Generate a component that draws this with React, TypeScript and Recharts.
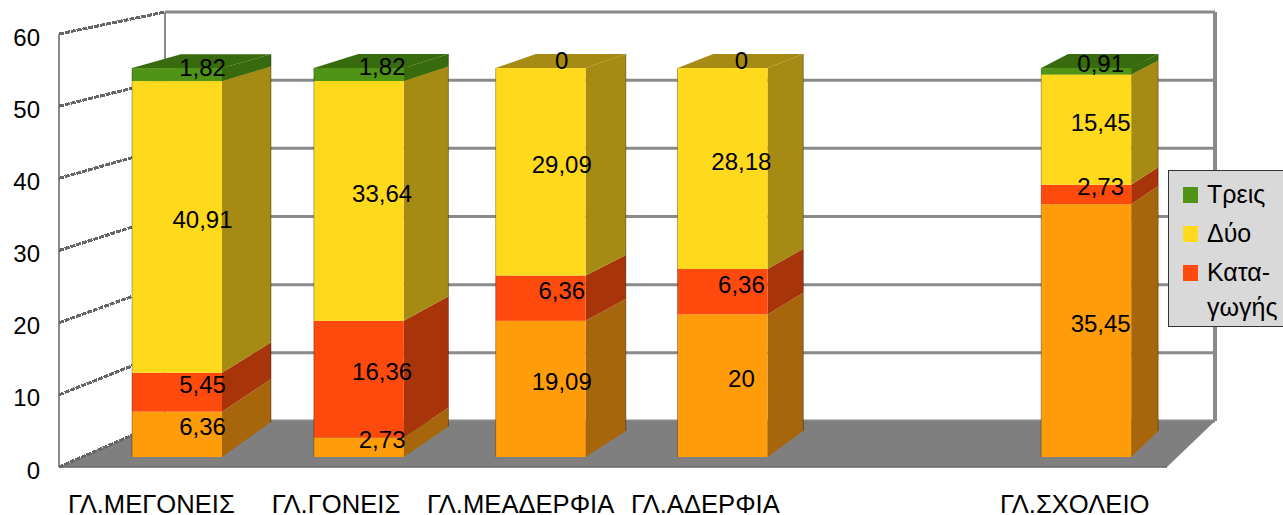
import {
  Bar,
  BarChart,
  CartesianGrid,
  LabelList,
  Legend,
  XAxis,
  YAxis,
} from "recharts";

const categories = [
  "ΓΛ.ΜΕΓΟΝΕΙΣ",
  "ΓΛ.ΓΟΝΕΙΣ",
  "ΓΛ.ΜΕΑΔΕΡΦΙΑ",
  "ΓΛ.ΑΔΕΡΦΙΑ",
  " ",
  "ΓΛ.ΣΧΟΛΕΙΟ",
];
const mia = [6.36, 2.73, 19.09, 20, null, 35.45];
const katagogis = [5.45, 16.36, 6.36, 6.36, null, 2.73];
const dyo = [40.91, 33.64, 29.09, 28.18, null, 15.45];
const treis = [1.82, 1.82, 0, 0, null, 0.91];
const yTicks = [0, 10, 20, 30, 40, 50, 60];

const data = categories.map((name, i) => ({
  name,
  mia: mia[i],
  katagogis: katagogis[i],
  dyo: dyo[i],
  treis: treis[i],
}));

const FONT = "'Liberation Sans', Arial, sans-serif";
const GRID = "#8a8a8a";

// box of the fake 3D room, in svg pixels
const FRONT_LEFT = 59;
const FRONT_RIGHT = 1167;
const BACK_LEFT = 165;
const BACK_RIGHT = 1215;
const FLOOR_FRONT = 467;
const FLOOR_BACK = 421;
const TOP_Y = 12;

const frontY = (v: number) => FLOOR_FRONT - v * 7.217;
const backY = (v: number) => FLOOR_BACK - v * ((FLOOR_BACK - TOP_Y) / 60);

// bars get shallower towards the right, the sides steeper towards the floor
const depthAt = (x: number) => 49 - (x - 132) * 0.0242;
const liftAt = (x: number, y: number) => {
  const bottom = Math.max(26, 35 - (x - 132) * 0.0245);
  return 14 + ((y - 70) / 387) * (bottom - 14);
};

const Room = () => (
  <g>
    <polygon
      points={`${FRONT_LEFT},${FLOOR_FRONT} ${FRONT_RIGHT},${FLOOR_FRONT} ${BACK_RIGHT},${FLOOR_BACK} ${BACK_LEFT},${FLOOR_BACK}`}
      fill="#7f7f7f"
    />
    <line x1={FRONT_LEFT} y1={FLOOR_FRONT} x2={FRONT_RIGHT} y2={FLOOR_FRONT} stroke="#666" strokeWidth={1.5} />
    <line x1={BACK_LEFT} y1={TOP_Y} x2={BACK_LEFT} y2={FLOOR_BACK} stroke={GRID} strokeWidth={2} />
    <line x1={BACK_RIGHT} y1={TOP_Y} x2={BACK_RIGHT} y2={FLOOR_BACK} stroke={GRID} strokeWidth={4} />
    <line x1={FRONT_LEFT} y1={frontY(60)} x2={FRONT_LEFT} y2={FLOOR_FRONT} stroke={GRID} strokeWidth={2} />
    {yTicks.map((v) => (
      <line
        key={v}
        x1={FRONT_LEFT}
        y1={frontY(v)}
        x2={BACK_LEFT}
        y2={backY(v)}
        stroke="#666"
        strokeWidth={3}
        strokeDasharray="5 1"
        shapeRendering="crispEdges"
      />
    ))}
  </g>
);

const makeBlock =
  (side: string, top?: string) =>
  ({ x, y, width, height, fill }: any) => {
    if (!height || height <= 0) {
      return <g />;
    }
    const right = x + width;
    const d = depthAt(x);
    const liftTop = liftAt(x, y);
    const liftBottom = liftAt(x, y + height);
    return (
      <g>
        <polygon
          points={`${right},${y} ${right + d},${y - liftTop} ${right + d},${y + height - liftBottom} ${right},${y + height}`}
          fill={side}
        />
        {top && (
          <polygon
            points={`${x},${y} ${x + d},${y - liftTop} ${right + d},${y - liftTop} ${right},${y}`}
            fill={top}
          />
        )}
        <rect x={x} y={y} width={width} height={height} fill={fill} />
        {/* thin dark rims on the outer edges */}
        <line x1={x} y1={y} x2={x} y2={y + height} stroke="#000" strokeOpacity={0.3} />
        <line
          x1={right + d}
          y1={y - liftTop}
          x2={right + d}
          y2={y + height - liftBottom}
          stroke="#000"
          strokeOpacity={0.35}
        />
      </g>
    );
  };

// value printed in the middle of the block, decimal comma
const BlockLabel = ({ x, y, width, height, value }: any) => {
  if (value === null || value === undefined) {
    return null;
  }
  return (
    <text
      x={x + (width + depthAt(x)) / 2 + 1}
      y={y + height / 2 - 7.5}
      textAnchor="middle"
      dominantBaseline="central"
      fontFamily={FONT}
      fontSize={24}
      fill="#000"
    >
      {String(value).replace(".", ",")}
    </text>
  );
};

const LegendBox = ({ payload }: any) => (
  <div
    style={{
      boxSizing: "border-box",
      width: 116,
      height: 157,
      background: "#d9d9d9",
      border: "1px solid #333",
      fontFamily: FONT,
      fontSize: 25,
      color: "#000",
      paddingTop: 6,
    }}
  >
    {(payload ?? [])
      .filter((entry: any) => entry.type !== "none")
      .reverse()
      .map((entry: any) => (
        <div key={entry.value} style={{ display: "flex", paddingLeft: 14, marginBottom: 4 }}>
          <div
            style={{
              width: 15,
              height: 16,
              marginTop: 10,
              marginRight: 9,
              flexShrink: 0,
              background: entry.color,
            }}
          />
          <div style={{ whiteSpace: "pre-line", lineHeight: "35px" }}>{entry.value}</div>
        </div>
      ))}
  </div>
);

export default function App() {
  return (
    <div style={{ position: "absolute", left: 0, top: 0, width: 1283, height: 515 }}>
      <BarChart
        width={1283}
        height={515}
        data={data}
        margin={{ top: TOP_Y, right: 68, bottom: 0, left: 0 }}
        barSize={90}
      >
        <CartesianGrid
          xAxisId="bars"
          yAxisId="back"
          x={BACK_LEFT}
          width={BACK_RIGHT - BACK_LEFT}
          vertical={false}
          syncWithTicks
          stroke={GRID}
          strokeWidth={3}
        />
        <Room />
        <XAxis
          xAxisId="labels"
          dataKey="name"
          interval={0}
          height={48}
          padding={{ left: 0, right: BACK_RIGHT - FRONT_RIGHT }}
          axisLine={false}
          tickLine={false}
          tickMargin={22}
          tick={{ fill: "#000", fontFamily: FONT, fontSize: 25.6 }}
        />
        <XAxis xAxisId="bars" dataKey="name" hide height={0} padding={{ left: 27, right: 38 }} />
        <YAxis
          yAxisId="scale"
          width={FRONT_LEFT}
          domain={[0, 60]}
          ticks={yTicks}
          allowDataOverflow
          padding={{ top: 22, bottom: 0 }}
          axisLine={false}
          tickLine={false}
          tickSize={0}
          tickMargin={19}
          dy={3}
          tick={{ fill: "#000", fontFamily: FONT, fontSize: 24 }}
        />
        <YAxis yAxisId="back" hide width={0} domain={[-6.75, 60]} ticks={yTicks} allowDataOverflow />
        <YAxis yAxisId="bars" hide width={0} domain={[-1.4, 62.4]} allowDataOverflow />
        <Bar
          xAxisId="bars"
          yAxisId="bars"
          stackId="a"
          dataKey="mia"
          name="Μία"
          legendType="none"
          fill="#ff9c0a"
          shape={makeBlock("#a8660c")}
          isAnimationActive={false}
        >
          <LabelList dataKey="mia" content={BlockLabel} />
        </Bar>
        <Bar
          xAxisId="bars"
          yAxisId="bars"
          stackId="a"
          dataKey="katagogis"
          name={"Κατα-\nγωγής"}
          fill="#ff4a0e"
          shape={makeBlock("#a8340a")}
          isAnimationActive={false}
        >
          <LabelList dataKey="katagogis" content={BlockLabel} />
        </Bar>
        <Bar
          xAxisId="bars"
          yAxisId="bars"
          stackId="a"
          dataKey="dyo"
          name="Δύο"
          fill="#ffd91c"
          shape={makeBlock("#a58a14", "#a58a14")}
          isAnimationActive={false}
        >
          <LabelList dataKey="dyo" content={BlockLabel} />
        </Bar>
        <Bar
          xAxisId="bars"
          yAxisId="bars"
          stackId="a"
          dataKey="treis"
          name="Τρεις"
          fill="#4f9416"
          shape={makeBlock("#386a0e", "#386a0e")}
          isAnimationActive={false}
        >
          <LabelList dataKey="treis" content={BlockLabel} />
        </Bar>
        <Legend
          layout="horizontal"
          verticalAlign="middle"
          itemSorter={null}
          content={LegendBox}
          wrapperStyle={{ left: 1168, top: 170, width: 116, height: 157 }}
        />
      </BarChart>
    </div>
  );
}
